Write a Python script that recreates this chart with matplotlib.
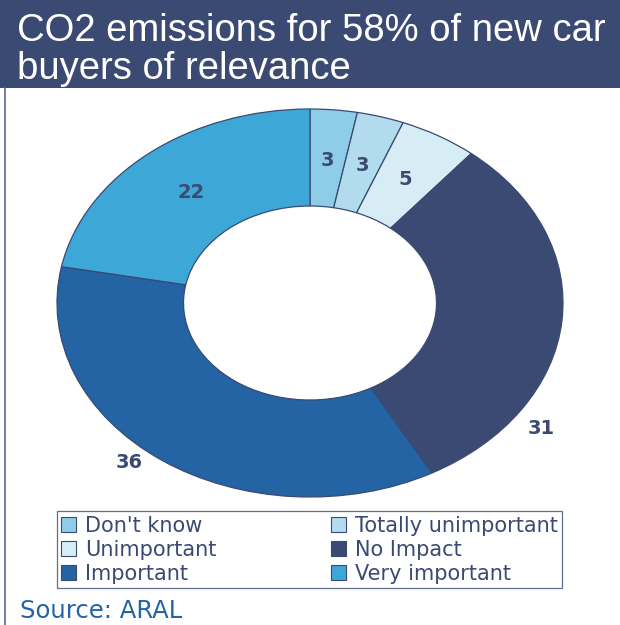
import numpy as np
import matplotlib.pyplot as plt
from matplotlib.patches import Rectangle, Patch

plt.rcParams['font.family'] = ['DejaVu Sans']

# data
categories = ["Don't know", "Totally unimportant", "Unimportant",
              "No Impact", "Important", "Very important"]
values = [3, 3, 5, 31, 36, 22]
colors = ["#8DCDE8", "#B2DCEE", "#D7EDF6", "#3A4A72", "#2463A4", "#3DA8D8"]
title = "CO2 emissions for 58% of new car\nbuyers of relevance"
source = "Source: ARAL"

navy = "#3A4A72"

fig = plt.figure(figsize=(6.2, 6.25), dpi=100)

# title bar
fig.patches.append(Rectangle((0, 1 - 88 / 625), 1, 88 / 625, transform=fig.transFigure,
                             facecolor="#3B4A73", edgecolor="none", zorder=0))
fig.text(17 / 620, 1 - 50 / 625, title, color="white", fontsize=27.5,
         family=['Liberation Sans', 'DejaVu Sans'],
         ha="left", va="center", linespacing=1.1)
# left frame line
fig.add_artist(plt.Line2D([4.5 / 620, 4.5 / 620], [0, 1 - 88 / 625],
                          transform=fig.transFigure, color="#5A6890", lw=1.2))

# elliptical donut
ax = fig.add_axes([57 / 620, (625 - 497) / 625, 506 / 620, 388 / 625])
wedges, _ = ax.pie(values, colors=colors, startangle=90, counterclock=False,
                   radius=1, wedgeprops=dict(width=0.5, edgecolor=navy, linewidth=0.9))
ax.set_aspect('auto')
ax.set_xlim(-1, 1)
ax.set_ylim(-1, 1)
ax.axis('off')

# value labels: radius and angle shift from slice midpoint
label_r = [0.74, 0.74, 0.74, 1.12, 1.09, 0.74]
label_shift = [0, 0, 0, -30, -5, 0]
start = 90.0
for v, r, sh in zip(values, label_r, label_shift):
    mid = start - v * 3.6 / 2 + sh
    start -= v * 3.6
    a = np.deg2rad(mid)
    ax.text(r * np.cos(a), r * np.sin(a), str(v), ha="center", va="center",
            fontsize=14, fontweight="bold", color=navy)

# legend, filled row by row
order = [0, 2, 4, 1, 3, 5]
handles = [Patch(facecolor=colors[i], edgecolor=navy, linewidth=0.8, label=categories[i])
           for i in order]
leg = fig.legend(handles=handles, ncol=2, mode="expand", loc="lower left",
                 bbox_to_anchor=(57 / 620, (625 - 588) / 625, 505 / 620, 79 / 625),
                 bbox_transform=fig.transFigure, fontsize=15, frameon=True,
                 fancybox=False, edgecolor=navy, handlelength=0.7, handleheight=0.7,
                 handletextpad=0.45, labelspacing=0.2, borderpad=0.2, borderaxespad=0)
leg.get_frame().set_linewidth(0.9)
for t in leg.get_texts():
    t.set_color(navy)

fig.text(20 / 620, 1 - 611 / 625, source, color="#2463A4", fontsize=17.5,
         ha="left", va="center")

fig.savefig("out.png", dpi=100)
